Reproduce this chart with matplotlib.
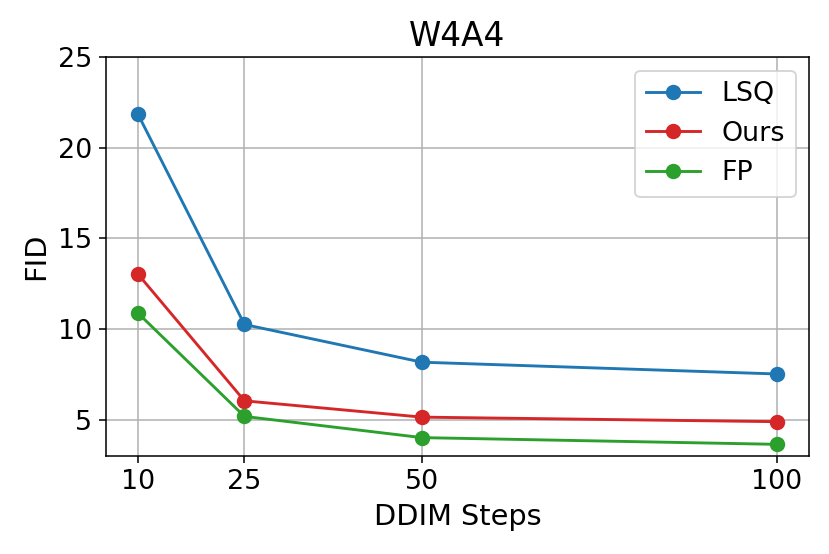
import matplotlib
matplotlib.use("Agg")
import matplotlib.pyplot as plt

steps = [10, 25, 50, 100]
lsq = [21.85, 10.25, 8.17, 7.52]
ours = [13.03, 6.04, 5.14, 4.89]
fp = [10.88, 5.18, 4.01, 3.64]

fig = plt.figure(figsize=(6, 4.005), dpi=138.33)
ax = fig.add_axes([0.1277, 0.177, 0.847, 0.720])

ax.plot(steps, lsq, marker="o", ms=7, color="tab:blue", label="LSQ")
ax.plot(steps, ours, marker="o", ms=7, color="tab:red", label="Ours")
ax.plot(steps, fp, marker="o", ms=7, color="tab:green", label="FP")

ax.set_ylim(3, 25)
ax.set_xticks(steps)
ax.set_yticks([5, 10, 15, 20, 25])
ax.tick_params(labelsize=14)
ax.grid(True)

ax.set_title("W4A4", fontsize=17)
ax.set_xlabel("DDIM Steps", fontsize=15)
ax.set_ylabel("FID", fontsize=15)
ax.legend(fontsize=14, loc="upper right")

fig.savefig("out.png", dpi=138.33)
